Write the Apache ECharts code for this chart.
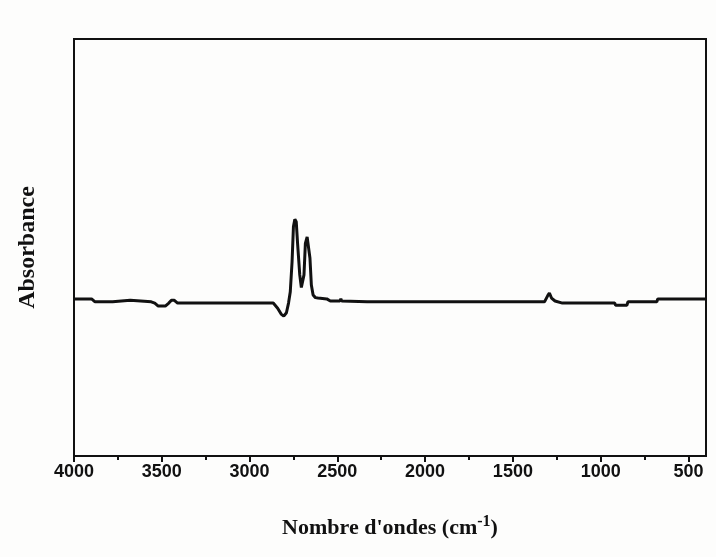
<!DOCTYPE html>
<html>
<head>
<meta charset="utf-8">
<script src="https://cdn.jsdelivr.net/npm/echarts@6/dist/echarts.min.js"></script>
<style>
  html, body { margin: 0; padding: 0; background: #fdfdfc; }
  #chart { width: 716px; height: 557px; }
</style>
</head>
<body>
<div id="chart"></div>
<script>
// wavenumbers (cm-1) and absorbance (arbitrary units)
const wavenumbers = [4000, 3900, 3880, 3780, 3770, 3680, 3670, 3560, 3540, 3520, 3480, 3460, 3445, 3430, 3410,
  2900, 2865, 2840, 2820, 2805, 2790, 2778, 2768, 2758, 2750, 2742, 2734, 2726, 2714, 2705, 2698, 2690, 2682, 2672, 2664,
  2656, 2648, 2638, 2625, 2610, 2560, 2540, 2485, 2480, 2475, 2330, 2205, 2200, 2195, 1460, 1457, 1454,
  1320, 1300, 1292, 1280, 1260, 1218, 920, 915, 850, 845, 680, 675, 550, 545, 540, 400]
const absorbance = [0.383, 0.383, 0.376, 0.376, 0.380, 0.380, 0.376, 0.376, 0.373, 0.366, 0.366, 0.373, 0.380, 0.380, 0.373,
  0.373, 0.373, 0.361, 0.347, 0.342, 0.350, 0.373, 0.400, 0.470, 0.555, 0.572, 0.566, 0.512, 0.440, 0.410, 0.408, 0.440, 0.515, 0.530, 0.526,
  0.480, 0.416, 0.392, 0.386, 0.385, 0.383, 0.378, 0.378, 0.383, 0.378, 0.376, 0.376, 0.380, 0.376, 0.376, 0.380, 0.376,
  0.376, 0.392, 0.397, 0.385, 0.378, 0.373, 0.373, 0.368, 0.368, 0.376, 0.376, 0.383, 0.383, 0.386, 0.383, 0.383]
const majorTicks = [4000, 3500, 3000, 2500, 2000, 1500, 1000, 500]
const minorTicks = [3750, 3250, 2750, 2250, 1750, 1250, 750]

const chart = echarts.init(document.getElementById('chart'))

const baseX = {
  type: 'value',
  min: 400,
  max: 4000,
  inverse: true,
  position: 'bottom',
  splitLine: { show: false }
}

chart.setOption({
  animation: false,
  grid: {
    left: 74,
    right: 10,
    top: 39,
    bottom: 101,
    show: true,
    borderColor: '#111',
    borderWidth: 2
  },
  xAxis: [
    Object.assign({}, baseX, {
      name: '{t|Nombre d\'ondes (cm}{s|-1}{t|)}',
      nameLocation: 'middle',
      nameGap: 58,
      nameTextStyle: {
        rich: {
          t: { fontFamily: 'Liberation Serif', fontWeight: 'bold', fontSize: 22, color: '#111' },
          s: { fontFamily: 'Liberation Serif', fontWeight: 'bold', fontSize: 16, color: '#111', verticalAlign: 'top', padding: [0, 0, 12, 0] }
        }
      },
      axisLine: { show: true, lineStyle: { color: '#111', width: 2 } },
      axisTick: { show: true, length: 6, lineStyle: { color: '#111', width: 2 }, customValues: majorTicks },
      axisLabel: {
        customValues: majorTicks,
        formatter: v => String(v),
        margin: 7,
        fontFamily: 'Liberation Sans',
        fontWeight: 'bold',
        fontSize: 18,
        color: '#111'
      }
    }),
    Object.assign({}, baseX, {
      axisLine: { show: false },
      axisTick: { show: true, length: 4, lineStyle: { color: '#111', width: 2 }, customValues: minorTicks },
      axisLabel: { show: false }
    })
  ],
  yAxis: {
    type: 'value',
    min: 0.01,
    max: 1,
    name: 'Absorbance',
    nameLocation: 'middle',
    nameGap: 34,
    nameTextStyle: { fontFamily: 'Liberation Serif', fontWeight: 'bold', fontSize: 24, color: '#111' },
    axisLine: { show: true, lineStyle: { color: '#111', width: 2 } },
    axisTick: { show: false },
    axisLabel: { show: false },
    splitLine: { show: false }
  },
  series: [{
    type: 'line',
    data: wavenumbers.map((w, i) => [w, absorbance[i]]),
    showSymbol: false,
    lineStyle: { color: '#111', width: 3 }
  }]
})
</script>
</body>
</html>
